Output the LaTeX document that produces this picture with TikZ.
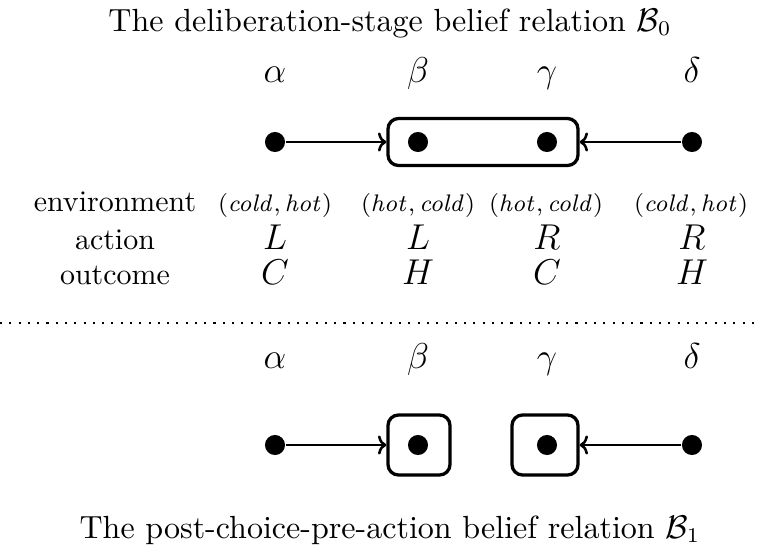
\documentclass[tikz,border=0pt]{standalone}
\usetikzlibrary{arrows.meta}
\begin{document}
\begin{tikzpicture}[x=0.334pt,y=-0.334pt,
  dotnode/.style={circle,fill=black,inner sep=0pt,minimum size=6.7pt},
  rbox/.style={draw,line width=1.1pt,rounded corners=3.5pt,inner sep=0pt},
  arr/.style={line width=0.85pt,-{To[length=2.8pt,width=6.4pt]}},
  lbl/.style={anchor=base,inner sep=0pt},
  ttl/.style={anchor=base,inner sep=0pt,font=\fontsize{10.7}{13}\selectfont},
  sym/.style={anchor=base,inner sep=0pt,font=\fontsize{12}{14}\selectfont},
  val/.style={anchor=base,inner sep=0pt,font=\fontsize{8.3}{10}\selectfont},
  sepline/.style={line width=0.7pt,dash pattern=on 0.7pt off 2.4pt}]
\useasboundingbox (0,0) rectangle (758,555);
% titles
\node[ttl] (t0) at (390,31) {The deliberation-stage belief relation $\mathcal{B}_0$};
\node[ttl] (t1) at (390,538) {The post-choice-pre-action belief relation $\mathcal{B}_1$};
% top labels
\node[sym] (la0) at (275,82) {$\alpha$};
\node[sym] (lb0) at (418,82) {$\beta$};
\node[sym] (lg0) at (547,82) {$\gamma$};
\node[sym] (ld0) at (692,82) {$\delta$};
% top row
\node[rbox,minimum width=190*0.334pt,minimum height=47*0.334pt] (B0) at (483,142) {};
\node[dotnode] (a0) at (275,142) {};
\node[dotnode] (b0) at (418,142) {};
\node[dotnode] (g0) at (547,142) {};
\node[dotnode] (d0) at (692,142) {};
\draw[arr] (a0) -- (B0.west);
\draw[arr] (d0) -- (B0.east);
% table
\node[lbl] (env) at (115,211) {environment};
\node[lbl] (act) at (115,249) {action};
\node[lbl] (out) at (115,284) {outcome};
\node[val] (e1) at (275,211) {$(\mathit{cold},\mathit{hot})$};
\node[val] (e2) at (418,211) {$(\mathit{hot},\mathit{cold})$};
\node[val] (e3) at (546,211) {$(\mathit{hot},\mathit{cold})$};
\node[val] (e4) at (691,211) {$(\mathit{cold},\mathit{hot})$};
\node[sym] (c1) at (275,249) {$L$};
\node[sym] (c2) at (418,249) {$L$};
\node[sym] (c3) at (547,249) {$R$};
\node[sym] (c4) at (692,249) {$R$};
\node[sym] (o1) at (275,284) {$C$};
\node[sym] (o2) at (418,284) {$H$};
\node[sym] (o3) at (547,284) {$C$};
\node[sym] (o4) at (692,284) {$H$};
% separator
\coordinate (sl) at (0,323);
\coordinate (sr) at (758,323);
\draw[sepline] (sl) -- (sr);
% bottom labels
\node[sym] (la1) at (275,368) {$\alpha$};
\node[sym] (lb1) at (418,368) {$\beta$};
\node[sym] (lg1) at (547,368) {$\gamma$};
\node[sym] (ld1) at (692,368) {$\delta$};
% bottom row
\node[rbox,minimum width=62*0.334pt,minimum height=60*0.334pt] (Bb) at (419,445) {};
\node[rbox,minimum width=66*0.334pt,minimum height=60*0.334pt] (Bg) at (545,445) {};
\node[dotnode] (a1) at (275,445) {};
\node[dotnode] (b1) at (418,445) {};
\node[dotnode] (g1) at (547,445) {};
\node[dotnode] (d1) at (692,445) {};
\draw[arr] (a1) -- (Bb.west);
\draw[arr] (d1) -- (Bg.east);
\end{tikzpicture}
\end{document}
